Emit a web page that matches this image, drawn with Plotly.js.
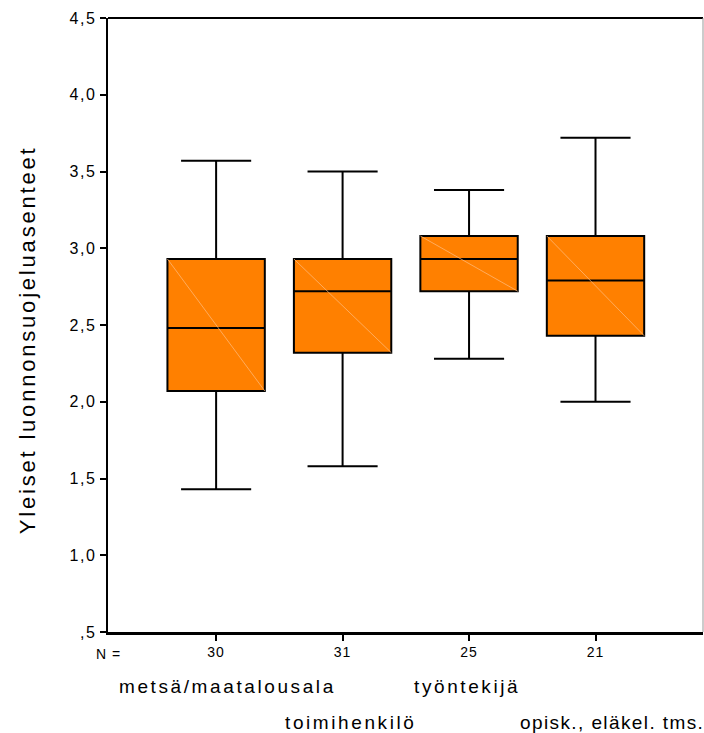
<!DOCTYPE html>
<html>
<head>
<meta charset="utf-8">
<script src="https://cdn.plot.ly/plotly-3.0.1.min.js"></script>
<style>
  html, body { margin: 0; padding: 0; background: #fff; }
  #chart { width: 704px; height: 733px; }
</style>
</head>
<body>
<div id="chart"></div>
<script>
// ---- data ----
const categories = ['metsä/maatalousala', 'toimihenkilö', 'työntekijä', 'opisk., eläkel. tms.'];
const nValues = [30, 31, 25, 21];
const lowerWhisker = [1.43, 1.58, 2.28, 2.00];
const q1 = [2.07, 2.32, 2.72, 2.43];
const median = [2.48, 2.72, 2.93, 2.79];
const q3 = [2.93, 2.93, 3.08, 3.08];
const upperWhisker = [3.57, 3.50, 3.38, 3.72];
const yTickVals = [0.5, 1.0, 1.5, 2.0, 2.5, 3.0, 3.5, 4.0, 4.5];
const yTickText = [',5', '1,0', '1,5', '2,0', '2,5', '3,0', '3,5', '4,0', '4,5'];
const yTitle = 'Yleiset luonnonsuojeluasenteet';
const nPrefix = 'N =';

// ---- styling helpers ----
const FONT = '"Liberation Sans", Arial, sans-serif';
const sp = (t, px) => '<span style="letter-spacing:' + px + 'px">' + t + '</span>';
const boxWidth = 0.77;
const labelRowShift = [-54, -90];
const labelXShift = [11, 8, -2, 16];
const labelSpacing = [2.6, 2.6, 2.6, 1.4];

const trace = {
  type: 'box',
  x: categories,
  lowerfence: lowerWhisker,
  q1: q1,
  median: median,
  q3: q3,
  upperfence: upperWhisker,
  width: boxWidth,
  whiskerwidth: 0.72,
  fillcolor: '#FF8000',
  line: { color: '#000000', width: 2 },
  boxpoints: false,
  showlegend: false,
  hoverinfo: 'skip'
};

const shapes = [
  { type: 'line', xref: 'paper', yref: 'paper', x0: 0, x1: 1, y0: 1, y1: 1, line: { color: '#000', width: 2 } },
  { type: 'line', xref: 'paper', yref: 'paper', x0: 1, x1: 1, y0: 0, y1: 1, line: { color: '#999', width: 1 } }
];
// faint diagonal artefact inside each box (SPSS rendering)
categories.forEach((c, i) => {
  shapes.push({
    type: 'line', xref: 'x', yref: 'y', layer: 'above',
    x0: i - boxWidth / 2, x1: i + boxWidth / 2, y0: q3[i], y1: q1[i],
    line: { color: 'rgba(255,190,130,0.7)', width: 1 }
  });
});

const annotations = [
  { xref: 'paper', yref: 'paper', x: 0, y: 0, xanchor: 'center', yanchor: 'middle', yshift: -22,
    text: sp(nPrefix, 1), showarrow: false, font: { family: FONT, size: 14, color: '#000' } },
  { xref: 'paper', yref: 'paper', x: 0, y: 0.4753, xanchor: 'center', yanchor: 'middle', xshift: -81,
    textangle: -90, text: sp(yTitle, 2.8), showarrow: false, font: { family: FONT, size: 22, color: '#000' } }
];
categories.forEach((c, i) => {
  annotations.push({
    xref: 'x', yref: 'paper', x: c, y: 0, xanchor: 'center', yanchor: 'middle',
    xshift: labelXShift[i], yshift: labelRowShift[i % 2],
    text: sp(c, labelSpacing[i]), showarrow: false, font: { family: FONT, size: 19, color: '#000' }
  });
});

const layout = {
  width: 704, height: 733,
  margin: { l: 108, r: 1, t: 18, b: 101, pad: 0 },
  paper_bgcolor: '#fff', plot_bgcolor: '#fff',
  font: { family: FONT, color: '#000' },
  showlegend: false,
  xaxis: {
    type: 'category', range: [-0.855, 3.85],
    tickvals: categories, ticktext: nValues.map(v => sp(String(v), 1)),
    ticks: 'outside', ticklen: 6, tickwidth: 2, tickcolor: '#000',
    tickfont: { family: FONT, size: 14, color: '#000' },
    showline: true, linecolor: '#000', linewidth: 2.5,
    showgrid: false, zeroline: false, fixedrange: true
  },
  yaxis: {
    range: [0.5, 4.5],
    tickvals: yTickVals, ticktext: yTickText.map(t => sp(t, 1.5)),
    ticks: 'outside', ticklen: 6, tickwidth: 2, tickcolor: '#000',
    tickfont: { family: FONT, size: 16, color: '#000' },
    showline: true, linecolor: '#000', linewidth: 2.5,
    showgrid: false, zeroline: false, fixedrange: true
  },
  shapes: shapes,
  annotations: annotations
};

Plotly.newPlot('chart', [trace], layout, { displayModeBar: false, staticPlot: true });
</script>
</body>
</html>
